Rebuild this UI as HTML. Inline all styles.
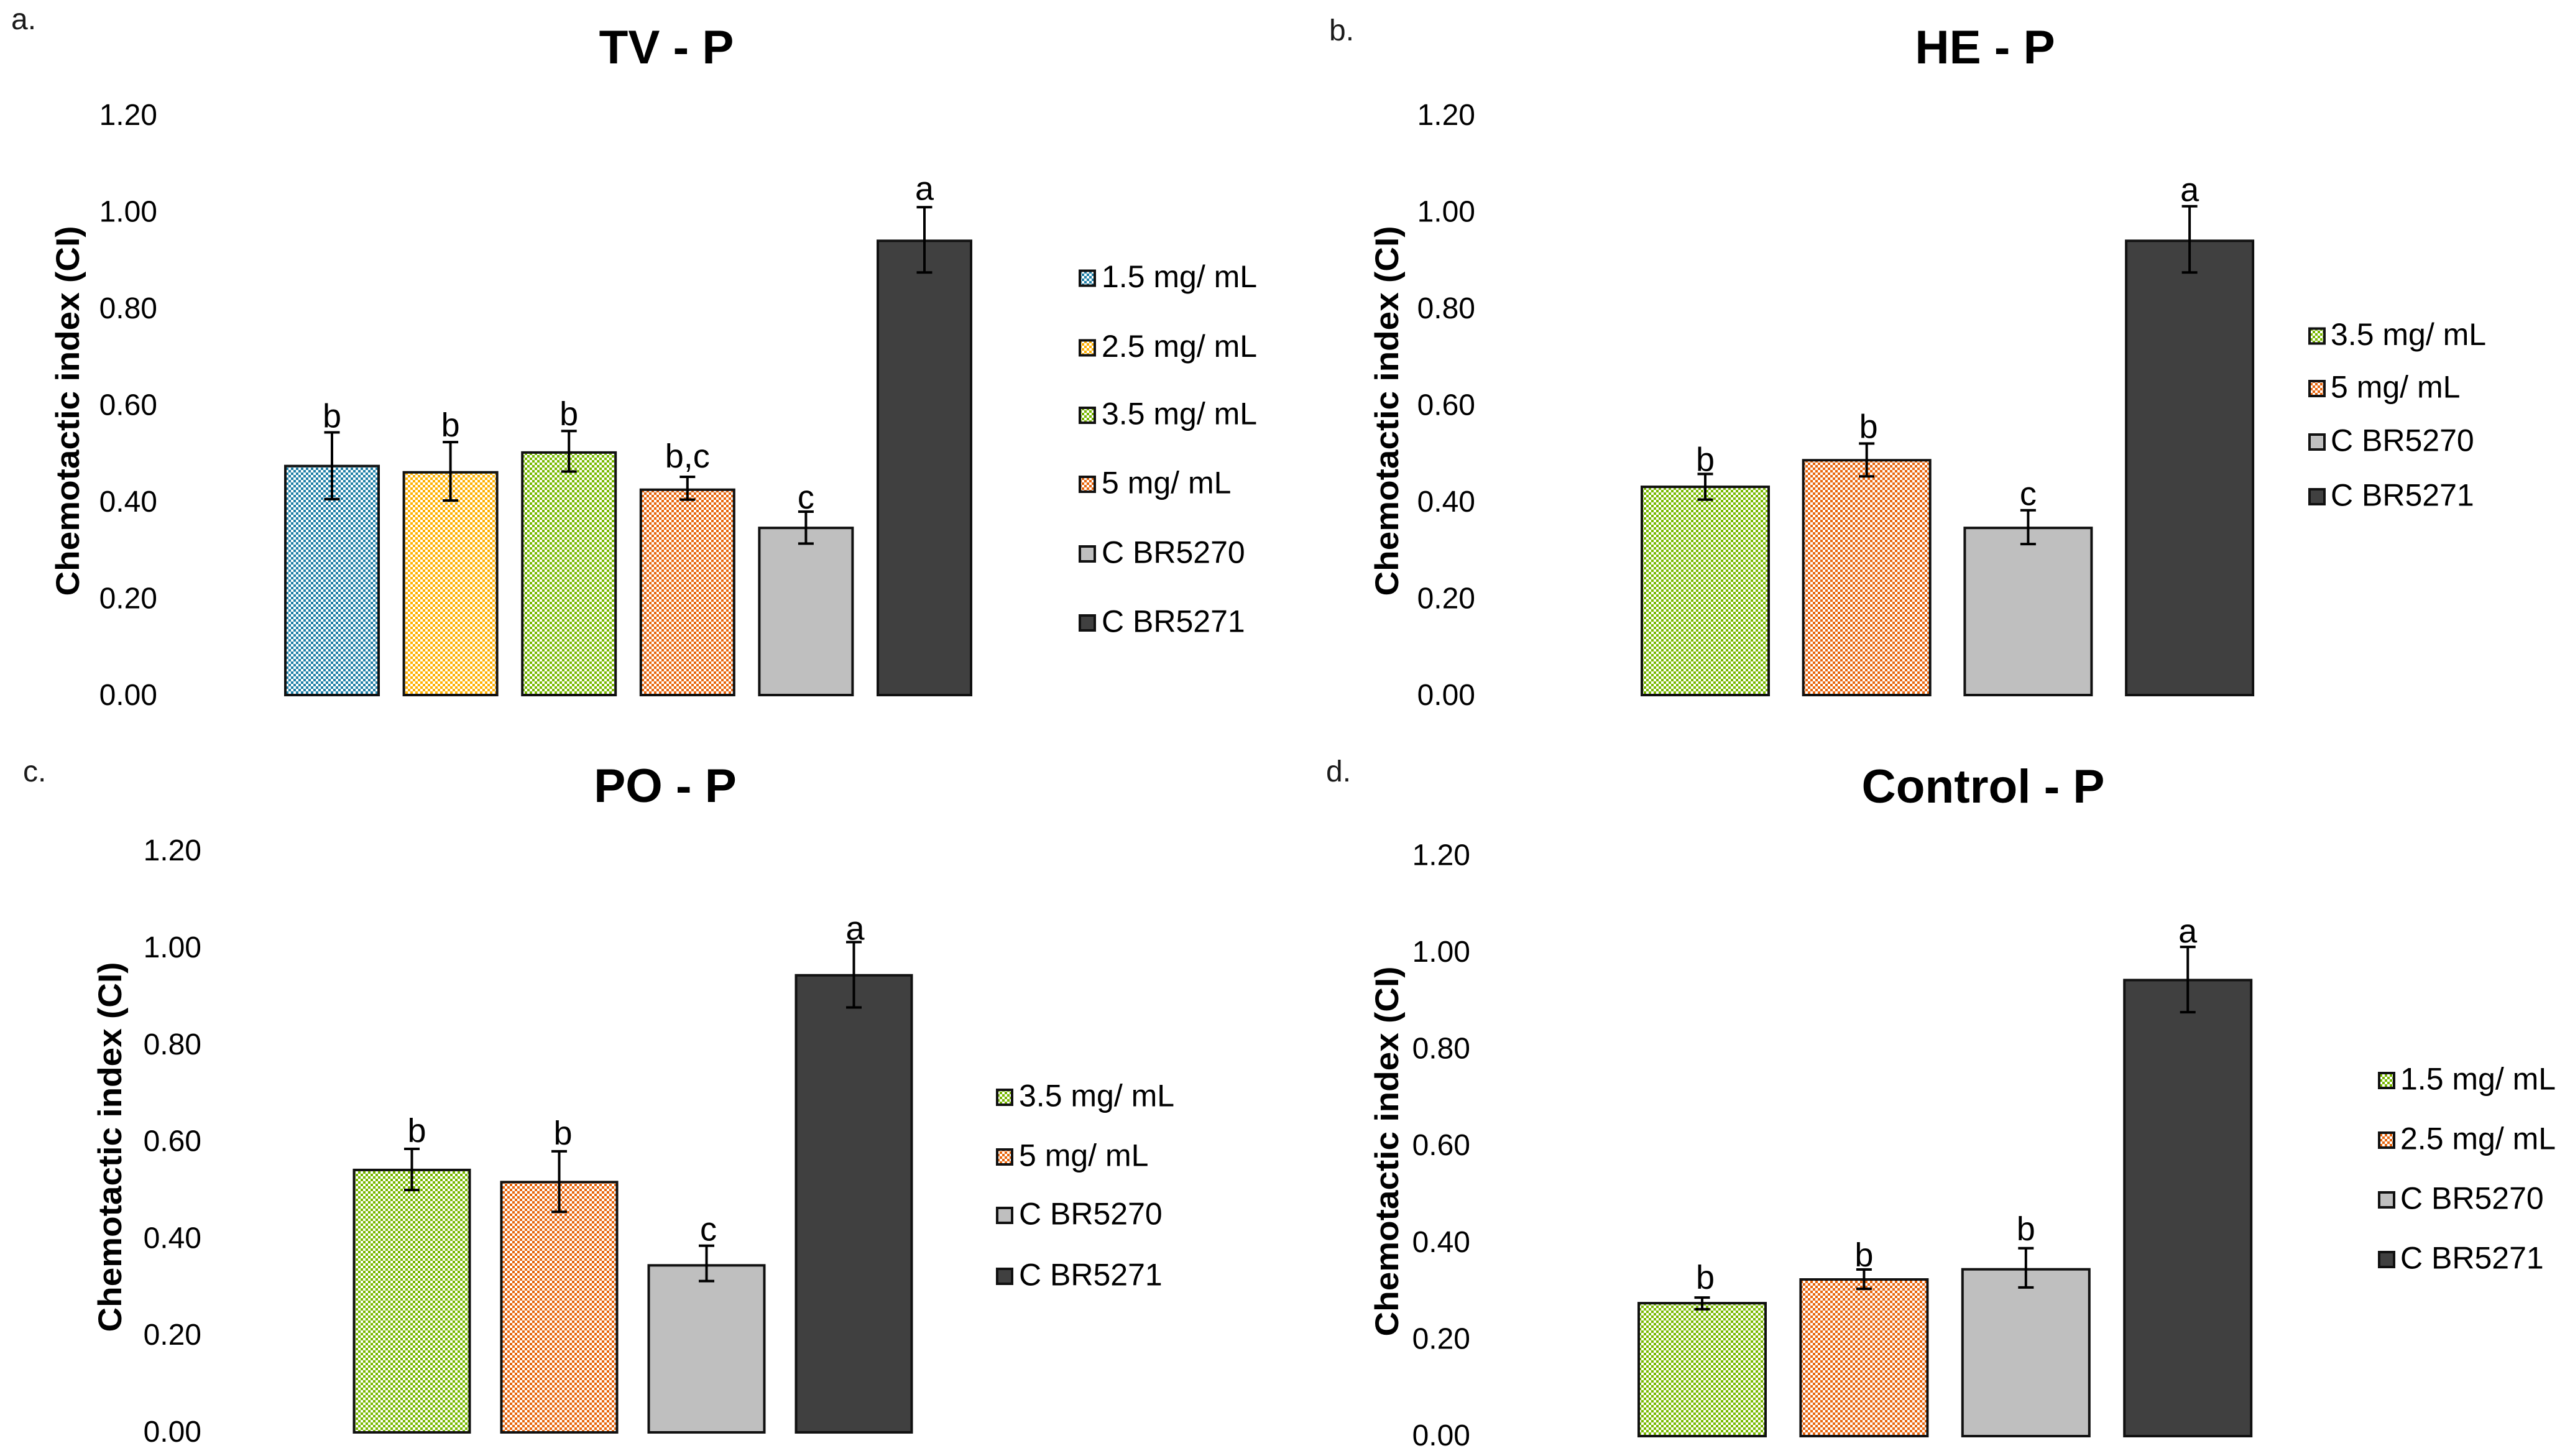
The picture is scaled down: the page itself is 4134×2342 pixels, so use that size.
<!DOCTYPE html>
<html lang="en">
<head>
<meta charset="utf-8">
<title>Chemotactic index panels</title>
<style>
html,body{margin:0;padding:0;background:#fff;width:4134px;height:2342px;overflow:hidden}
svg{display:block;font-family:"Liberation Sans",Arial,sans-serif}
</style>
</head>
<body>
<svg id="figure" xmlns="http://www.w3.org/2000/svg" width="4134" height="2342" viewBox="0 0 4134 2342">
<defs>
<pattern id="fill-blue" width="8" height="8" patternUnits="userSpaceOnUse"><rect width="8" height="8" fill="#1f7fa6"/><rect width="4" height="4" fill="#fff"/><rect x="4" y="4" width="4" height="4" fill="#fff"/></pattern>
<pattern id="fill-yellow" width="8" height="8" patternUnits="userSpaceOnUse"><rect width="8" height="8" fill="#ffb000"/><rect width="4" height="4" fill="#fff"/><rect x="4" y="4" width="4" height="4" fill="#fff"/></pattern>
<pattern id="fill-green" width="8" height="8" patternUnits="userSpaceOnUse"><rect width="8" height="8" fill="#78b800"/><rect width="4" height="4" fill="#fff"/><rect x="4" y="4" width="4" height="4" fill="#fff"/></pattern>
<pattern id="fill-orange" width="8" height="8" patternUnits="userSpaceOnUse"><rect width="8" height="8" fill="#e8650c"/><rect width="4" height="4" fill="#fff"/><rect x="4" y="4" width="4" height="4" fill="#fff"/></pattern>
</defs>
</svg>
<script>
// ---- shared axis ticks ----
const tickValues = [0, 0.2, 0.4, 0.6, 0.8, 1.0, 1.2];
const tickLabels = ['0.00', '0.20', '0.40', '0.60', '0.80', '1.00', '1.20'];

// ---- panel a: TV - P ----
const tvCategories = ['1.5 mg/ mL', '2.5 mg/ mL', '3.5 mg/ mL', '5 mg/ mL', 'C BR5270', 'C BR5271'];
const tvValues = [0.479, 0.466, 0.507, 0.430, 0.351, 0.945];
const tvErrHigh = [0.546, 0.526, 0.549, 0.454, 0.382, 1.012];
const tvErrLow = [0.408, 0.405, 0.465, 0.407, 0.316, 0.877];
const tvLetters = ['b', 'b', 'b', 'b,c', 'c', 'a'];

// ---- panel b: HE - P ----
const heCategories = ['3.5 mg/ mL', '5 mg/ mL', 'C BR5270', 'C BR5271'];
const heValues = [0.436, 0.491, 0.351, 0.945];
const heErrHigh = [0.460, 0.523, 0.385, 1.014];
const heErrLow = [0.407, 0.455, 0.315, 0.877];
const heLetters = ['b', 'b', 'c', 'a'];

// ---- panel c: PO - P ----
const poCategories = ['3.5 mg/ mL', '5 mg/ mL', 'C BR5270', 'C BR5271'];
const poValues = [0.547, 0.522, 0.350, 0.949];
const poErrHigh = [0.588, 0.583, 0.388, 1.015];
const poErrLow = [0.503, 0.458, 0.315, 0.880];
const poLetters = ['b', 'b', 'c', 'a'];

// ---- panel d: Control - P ----
const ctlCategories = ['1.5 mg/ mL', '2.5 mg/ mL', 'C BR5270', 'C BR5271'];
const ctlValues = [0.280, 0.329, 0.350, 0.948];
const ctlErrHigh = [0.289, 0.347, 0.391, 1.014];
const ctlErrLow = [0.265, 0.307, 0.310, 0.879];
const ctlLetters = ['b', 'b', 'b', 'a'];

// ---- layout (pixels & styles, separate from the data) ----
const panels = [
  {id:'tv', tag:'a.', tagX:18, tagY:47, title:'TV - P', titleX:1072, titleY:102,
   cats:tvCategories, vals:tvValues, hi:tvErrHigh, lo:tvErrLow, letters:tvLetters,
   base:1120, unit:777.4, first:534, step:190.6, barW:154, tickX:253, tickDy:14, yTitleX:127, yTitleC:661,
   swatchX:1735, textX:1772, rows:[447.5,559.5,668,779,891,1002],
   gaps:[8,9,9,15,5,12], nudges:[0,0,0,0,0,0], fills:['url(#fill-blue)','url(#fill-yellow)','url(#fill-green)','url(#fill-orange)','#bfbfbf','#404040']},
  {id:'he', tag:'b.', tagX:2138, tagY:65, title:'HE - P', titleX:3193, titleY:102,
   cats:heCategories, vals:heValues, hi:heErrHigh, lo:heErrLow, letters:heLetters,
   base:1120, unit:777.4, first:2743, step:259.7, barW:208, tickX:2373, tickDy:14, yTitleX:2249, yTitleC:661,
   swatchX:3713, textX:3749, rows:[540.5,625,711,799],
   gaps:[5,9,8,8], nudges:[0,3,0,0], fills:['url(#fill-green)','url(#fill-orange)','#bfbfbf','#404040']},
  {id:'po', tag:'c.', tagX:37, tagY:1257, title:'PO - P', titleX:1070, titleY:1290,
   cats:poCategories, vals:poValues, hi:poErrHigh, lo:poErrLow, letters:poLetters,
   base:2306, unit:779, first:662.5, step:237, barW:190, tickX:324, tickDy:13, yTitleX:195, yTitleC:1845,
   swatchX:1602, textX:1639, rows:[1765,1861,1955,2053],
   gaps:[11,11,8,4], nudges:[8,6,3,2], fills:['url(#fill-green)','url(#fill-orange)','#bfbfbf','#404040']},
  {id:'ctl', tag:'d.', tagX:2133, tagY:1257, title:'Control - P', titleX:3190, titleY:1291,
   cats:ctlCategories, vals:ctlValues, hi:ctlErrHigh, lo:ctlErrLow, letters:ctlLetters,
   base:2312, unit:778, first:2738, step:260.4, barW:208, tickX:2365, tickDy:13, yTitleX:2249, yTitleC:1852,
   swatchX:3825, textX:3861, rows:[1738,1834,1930,2026],
   gaps:[14,5,13,7], nudges:[5,0,0,0], fills:['url(#fill-green)','url(#fill-orange)','#bfbfbf','#404040']}
];

const NS = 'http://www.w3.org/2000/svg';
const svg = document.getElementById('figure');
function make(tag, props, parent, text) {
  const n = document.createElementNS(NS, tag);
  for (const k in props) n.setAttribute(k, props[k]);
  if (text !== undefined) n.textContent = text;
  parent.appendChild(n);
  return n;
}

panels.forEach(function (p) {
  const yScale = function (v) { return p.base - v * p.unit; };
  const xScale = function (i) { return p.first + i * p.step; };

  const g = make('g', {}, svg);
  
  

  const tag = make('text', {x:p.tagX, y:p.tagY, 'font-size':48, fill:'#1a1a1a'}, g, p.tag);
  
  

  const title = make('text', {x:p.titleX, y:p.titleY, 'font-size':76.5, 'font-weight':'bold', 'text-anchor':'middle', fill:'#000'}, g, p.title);
  
  

  const yTitle = make('text', {
    transform:'translate(' + p.yTitleX + ',' + p.yTitleC + ') rotate(-90)',
    'font-size':53, 'font-weight':'bold', 'text-anchor':'middle', fill:'#000',
    textLength:595, lengthAdjust:'spacingAndGlyphs'
  }, g, 'Chemotactic index (CI)');
  
  

  tickValues.forEach(function (t, i) {
    const lab = make('text', {x:p.tickX, y:yScale(t) + p.tickDy, 'font-size':48, 'text-anchor':'end', fill:'#000'}, g, tickLabels[i]);
    
    
  });

  p.vals.forEach(function (v, i) {
    const cx = xScale(i);
    const bar = make('rect', {
      x:cx - p.barW / 2 + 2, y:yScale(v) + 2,
      width:p.barW - 4, height:p.base - yScale(v) - 4,
      fill:p.fills[i], stroke:'#111', 'stroke-width':4
    }, g);
    
    

    const yHi = yScale(p.hi[i]);
    const yLo = yScale(p.lo[i]);
    const err = make('path', {
      d:'M' + cx + ' ' + yHi + 'V' + yLo + 'M' + (cx - 12.5) + ' ' + yHi + 'H' + (cx + 12.5) + 'M' + (cx - 12.5) + ' ' + yLo + 'H' + (cx + 12.5),
      fill:'none', stroke:'#000', 'stroke-width':4
    }, g);
    
    

    const letter = make('text', {x:cx + p.nudges[i], y:yHi - p.gaps[i], 'font-size':54, 'text-anchor':'middle', fill:'#000'}, g, p.letters[i]);
    
    
  });

  p.cats.forEach(function (c, i) {
    const cy = p.rows[i];
    const sw = make('rect', {x:p.swatchX + 2, y:cy - 12, width:24, height:24, fill:p.fills[i], stroke:'#111', 'stroke-width':4}, g);
    
    
    const lt = make('text', {x:p.textX, y:cy + 14.5, 'font-size':50, fill:'#000'}, g, c);
    
    
  });
});
</script>
</body>
</html>
